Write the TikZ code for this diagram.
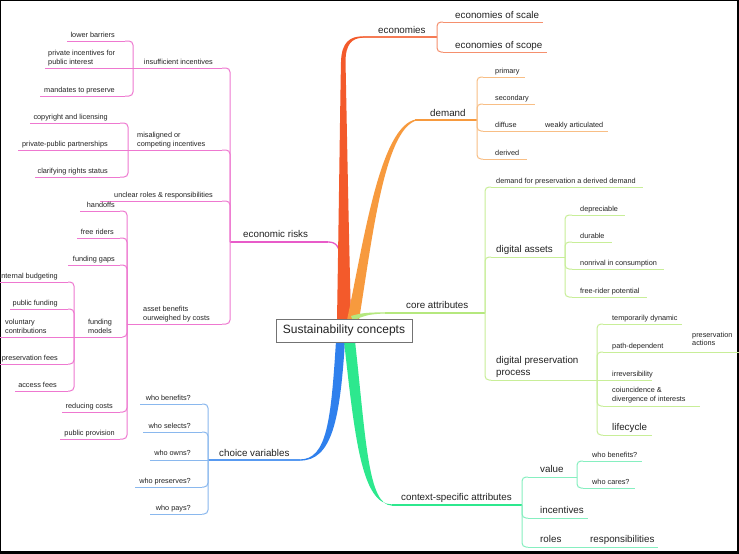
\documentclass[tikz,border=0pt]{standalone}
\usepackage{fontspec}
\setmainfont{Liberation Sans}
\usetikzlibrary{calc}
\definecolor{txt}{HTML}{222222}
\definecolor{cRed}{HTML}{F35A2B}
\definecolor{cRedL}{HTML}{F5906E}
\definecolor{cOr}{HTML}{F79A3E}
\definecolor{cOrL}{HTML}{F8BE85}
\definecolor{cYg}{HTML}{B5E87E}
\definecolor{cYgL}{HTML}{C8EE98}
\definecolor{cGr}{HTML}{2DE88E}
\definecolor{cGrL}{HTML}{86EFC0}
\definecolor{cBl}{HTML}{2F80ED}
\definecolor{cBlL}{HTML}{8AB8EE}
\definecolor{cPk}{HTML}{E85BC9}
\definecolor{cPkL}{HTML}{EE78D0}
\newcommand\tline[5]{\coordinate (#1-s) at (#2,#4);\coordinate (#1-e) at (#3,#4);\draw[#5] (#1-s) -- (#1-e);}
\newcommand\twol[2]{\begin{tabular}[b]{@{}l@{}}#1\\#2\end{tabular}}
\newcommand\twoc[2]{\begin{tabular}[b]{@{}c@{}}#1\\#2\end{tabular}}
\tikzset{
  sm/.style={font=\fontsize{7.3}{9}\selectfont,text=txt,inner sep=0pt},
  md/.style={font=\fontsize{9.8}{11.5}\selectfont,text=txt,inner sep=0pt},
  rc/.style={rounded corners=4pt},
  lRed/.style={cRedL,line width=1pt},
  lOr/.style={cOrL,line width=1pt},
  lYg/.style={cYgL,line width=1pt},
  lGr/.style={cGrL,line width=1pt},
  lBl/.style={cBlL,line width=1pt},
  lPk/.style={cPkL,line width=1pt},
  mRed/.style={cRed!80,line width=1.3pt},
  mOr/.style={cOr,line width=1.3pt},
  mYg/.style={cYg,line width=1.3pt},
  mGr/.style={cGr,line width=1.3pt},
  mBl/.style={cBl!80,line width=1.3pt},
  mPk/.style={cPk,line width=1.3pt},
  centre/.style={draw=black!55,line width=0.8pt,fill=white,font=\fontsize{12}{14}\selectfont,text=txt,minimum width=136pt,minimum height=23pt,inner sep=0pt}
}
\begin{document}
\begin{tikzpicture}[x=1pt,y=-1pt]
\useasboundingbox (0,0) rectangle (739,554);
\fill[black] (0,0) rectangle (739,554);
\fill[white] (1.2,1.2) rectangle (737,551);

% ---------- lines ----------
% economies
\tline{E}{363}{437}{37}{mRed}
\tline{E1}{443}{543}{22}{lRed}
\tline{E2}{443}{547}{52}{lRed}
% demand
\tline{D}{415}{477}{120}{mOr}
\tline{D1}{483}{525}{77}{lOr}
\tline{D2}{483}{535}{104}{lOr}
\tline{D3}{483}{540}{131}{lOr}
\tline{D3a}{540}{608}{131}{lOr}
\tline{D4}{483}{527}{159}{lOr}
% core attributes
\tline{C}{385}{485}{313}{mYg}
\tline{C1}{491}{643}{187}{lYg}
\tline{C2}{491}{565}{257}{lYg}
\tline{C21}{572}{625}{215}{lYg}
\tline{C22}{572}{612}{242}{lYg}
\tline{C23}{572}{664}{269}{lYg}
\tline{C24}{572}{647}{297}{lYg}
\tline{C3}{491}{597}{380}{lYg}
\tline{C31}{603}{682}{324}{lYg}
\tline{C32}{603}{680}{352}{lYg}
\tline{C32a}{680}{739}{352}{lYg}
\tline{C33}{597}{652}{380}{lYg}
\tline{C34}{603}{700}{406}{lYg}
\tline{C35}{603}{652}{435}{lYg}
% context
\tline{X}{392}{522}{505}{mGr}
\tline{X1}{528}{577}{477}{lGr}
\tline{X11}{583}{642}{461}{lGr}
\tline{X12}{583}{635}{488}{lGr}
\tline{X2}{528}{588}{518}{lGr}
\tline{X3}{528}{580}{547}{lGr}
\tline{X31}{580}{658}{547}{lGr}
% choice
\tline{V}{208}{300}{460}{mBl}
\tline{V1}{140}{202}{404}{lBl}
\tline{V2}{143}{202}{432}{lBl}
\tline{V3}{150}{208}{460}{lBl}
\tline{V4}{135}{202}{487}{lBl}
\tline{V5}{150}{202}{514}{lBl}
% economic risks
\tline{R}{230}{328}{242}{mPk}
\tline{R1}{133}{222}{68}{lPk}
\tline{R11}{67}{125}{41}{lPk}
\tline{R12}{45}{133}{68}{lPk}
\tline{R13}{40}{125}{96}{lPk}
\tline{R2}{128}{222}{150}{lPk}
\tline{R21}{30}{120}{123}{lPk}
\tline{R22}{18}{128}{150}{lPk}
\tline{R23}{35}{120}{177}{lPk}
\tline{R3}{100}{222}{201}{lPk}
\tline{R4}{127}{222}{324}{lPk}
\tline{R41}{80}{120}{211}{lPk}
\tline{R42}{77}{120}{238}{lPk}
\tline{R43}{68}{120}{265}{lPk}
\tline{R44}{74}{122}{337}{lPk}
\tline{R441}{0}{68}{282}{lPk}
\tline{R442}{10}{68}{309}{lPk}
\tline{R443}{0}{74}{337}{lPk}
\tline{R444}{0}{68}{364}{lPk}
\tline{R445}{15}{68}{391}{lPk}
\tline{R45}{62}{120}{412}{lPk}
\tline{R46}{60}{120}{439}{lPk}

% ---------- connectors ----------
\draw[lRed,rc] (E-e) |- (E1-s);
\draw[lRed,rc] (E-e) |- (E2-s);
\foreach \c in {D1,D2,D3,D4} \draw[lOr,rc] (D-e) |- (\c-s);
\foreach \c in {C1,C2,C3} \draw[lYg,rc] (C-e) |- (\c-s);
\foreach \c in {C21,C22,C23,C24} \draw[lYg,rc] (C2-e) |- (\c-s);
\foreach \c in {C31,C32,C34,C35} \draw[lYg,rc] (C3-e) |- (\c-s);
\foreach \c in {X1,X2,X3} \draw[lGr,rc] (X-e) |- (\c-s);
\foreach \c in {X11,X12} \draw[lGr,rc] (X1-e) |- (\c-s);
\foreach \c in {V1,V2,V4,V5} \draw[lBl,rc] (\c-e) -| (V-s);
\foreach \c in {R1,R2,R3,R4} \draw[lPk,rc] (\c-e) -| (R-s);
\foreach \c in {R11,R13} \draw[lPk,rc] (\c-e) -| (R1-s);
\foreach \c in {R21,R23} \draw[lPk,rc] (\c-e) -| (R2-s);
\foreach \c in {R41,R42,R43,R44,R45,R46} \draw[lPk,rc] (\c-e) -| (R4-s);
\foreach \c in {R441,R442,R444,R445} \draw[lPk,rc] (\c-e) -| (R44-s);

% ---------- main branches ----------
\draw[mPk] (R-e) .. controls (336,242) and (340,246) .. (341,262);
\fill[cRed] (337,320) .. controls (339,200) and (340.5,80) .. (341,62) .. controls (341.5,42) and (350,36.3) .. (363,36.3) -- (363,37.7) .. controls (352,38) and (345.5,44) .. (345.5,62) .. controls (346,80) and (348,200) .. (351,320) -- cycle;
\fill[cOr] (347,320) .. controls (364,240) and (380,126) .. (416,119.4) -- (416,120.6) .. controls (384,131) and (372,240) .. (359,320) -- cycle;
\fill[cYg] (351,316) .. controls (362,312.6) and (370,312.4) .. (385,312.4) -- (385,313.6) .. controls (371,313.8) and (363,315.5) .. (353,321) -- cycle;
\fill[cBl] (336,341) .. controls (331,420) and (327,459.4) .. (300,459.4) -- (300,460.6) .. controls (332,460.6) and (340,420) .. (345,341) -- cycle;
\fill[cGr] (344,341) .. controls (355,440) and (362,504.4) .. (392,504.4) -- (392,505.6) .. controls (368,505.6) and (366,440) .. (355,341) -- cycle;

\node[centre] (root) at (344,330.5) {Sustainability concepts};

% ---------- texts ----------
\node[md,anchor=base west] (E)  at (378,33) {economies};
\node[md,anchor=base west] (E1) at (455,18.5) {economies of scale};
\node[md,anchor=base west] (E2) at (455,48) {economies of scope};
\node[md,anchor=base west] (D)  at (430,116) {demand};
\node[sm,anchor=base west] (D1) at (495,73) {primary};
\node[sm,anchor=base west] (D2) at (495,100) {secondary};
\node[sm,anchor=base west] (D3) at (495,127) {diffuse};
\node[sm,anchor=base west] (D3a) at (545,127) {weakly articulated};
\node[sm,anchor=base west] (D4) at (495,155) {derived};
\node[md,anchor=base west] (C)  at (406,308.5) {core attributes};
\node[sm,anchor=base west] (C1) at (496,183) {demand for preservation a derived demand};
\node[md,anchor=base west] (C2) at (496,252.5) {digital assets};
\node[sm,anchor=base west] (C21) at (580,211) {depreciable};
\node[sm,anchor=base west] (C22) at (580,238) {durable};
\node[sm,anchor=base west] (C23) at (580,265) {nonrival in consumption};
\node[sm,anchor=base west] (C24) at (580,293) {free-rider potential};
\node[md,anchor=base west] (C3) at (496,375) {\twol{digital preservation}{process}};
\node[sm,anchor=base west] (C31) at (612,320) {temporarily dynamic};
\node[sm,anchor=base west] (C32) at (612,348) {path-dependent};
\node[sm,anchor=base west,font=\fontsize{7.3}{8}\selectfont] (C32a) at (692,345.5) {\twol{preservation}{actions}};
\node[sm,anchor=base west] (C33) at (612,376) {irreversibility};
\node[sm,anchor=base west] (C34) at (612,401.5) {\twol{coiuncidence \&}{divergence of interests}};
\node[md,anchor=base west] (C35) at (612,430.5) {lifecycle};
\node[md,anchor=base west] (X)  at (401,500.5) {context-specific attributes};
\node[md,anchor=base west] (X1) at (540,472) {value};
\node[sm,anchor=base west] (X11) at (592,457.5) {who benefits?};
\node[sm,anchor=base west] (X12) at (592,484.5) {who cares?};
\node[md,anchor=base west] (X2) at (540,513.5) {incentives};
\node[md,anchor=base west] (X3) at (540,542.5) {roles};
\node[md,anchor=base west] (X31) at (590,542.5) {responsibilities};
\node[md,anchor=base west] (V)  at (219,456) {choice variables};
\node[sm,anchor=base east] (V1) at (191,400.5) {who benefits?};
\node[sm,anchor=base east] (V2) at (191,428) {who selects?};
\node[sm,anchor=base east] (V3) at (191,455.5) {who owns?};
\node[sm,anchor=base east] (V4) at (191,483) {who preserves?};
\node[sm,anchor=base east] (V5) at (191,510.5) {who pays?};
\node[md,anchor=base west] (R)  at (243,237) {economic risks};
\node[sm,anchor=base east] (R1) at (213,64.5) {insufficient incentives};
\node[sm,anchor=base east] (R11) at (115,37) {lower barriers};
\node[sm,anchor=base west] (R12) at (48,64) {\twol{private incentives for}{public interest}};
\node[sm,anchor=base east] (R13) at (115,92) {mandates to preserve};
\node[sm,anchor=base west] (R2) at (137,146) {\twol{misaligned or}{competing incentives}};
\node[sm,anchor=base east] (R21) at (108,119) {copyright and licensing};
\node[sm,anchor=base east] (R22) at (108,146) {private-public partnerships};
\node[sm,anchor=base east] (R23) at (108,173) {clarifying rights status};
\node[sm,anchor=base east] (R3) at (213,197) {unclear roles \& responsibilities};
\node[sm,anchor=base west] (R4) at (143,320) {\twol{asset benefits}{ourweighed by costs}};
\node[sm,anchor=base east] (R41) at (115,207) {handoffs};
\node[sm,anchor=base east] (R42) at (114,234) {free riders};
\node[sm,anchor=base east] (R43) at (115,261) {funding gaps};
\node[sm,anchor=base] (R44) at (100,333) {\twoc{funding}{models}};
\node[sm,anchor=base east] (R441) at (58,278) {internal budgeting};
\node[sm,anchor=base east] (R442) at (58,305) {public funding};
\node[sm,anchor=base west] (R443) at (5,333) {\twol{voluntary}{contributions}};
\node[sm,anchor=base east] (R444) at (58,360) {preservation fees};
\node[sm,anchor=base east] (R445) at (57,387) {access fees};
\node[sm,anchor=base east] (R45) at (113,408) {reducing costs};
\node[sm,anchor=base east] (R46) at (115,435) {public provision};
\end{tikzpicture}
\end{document}
